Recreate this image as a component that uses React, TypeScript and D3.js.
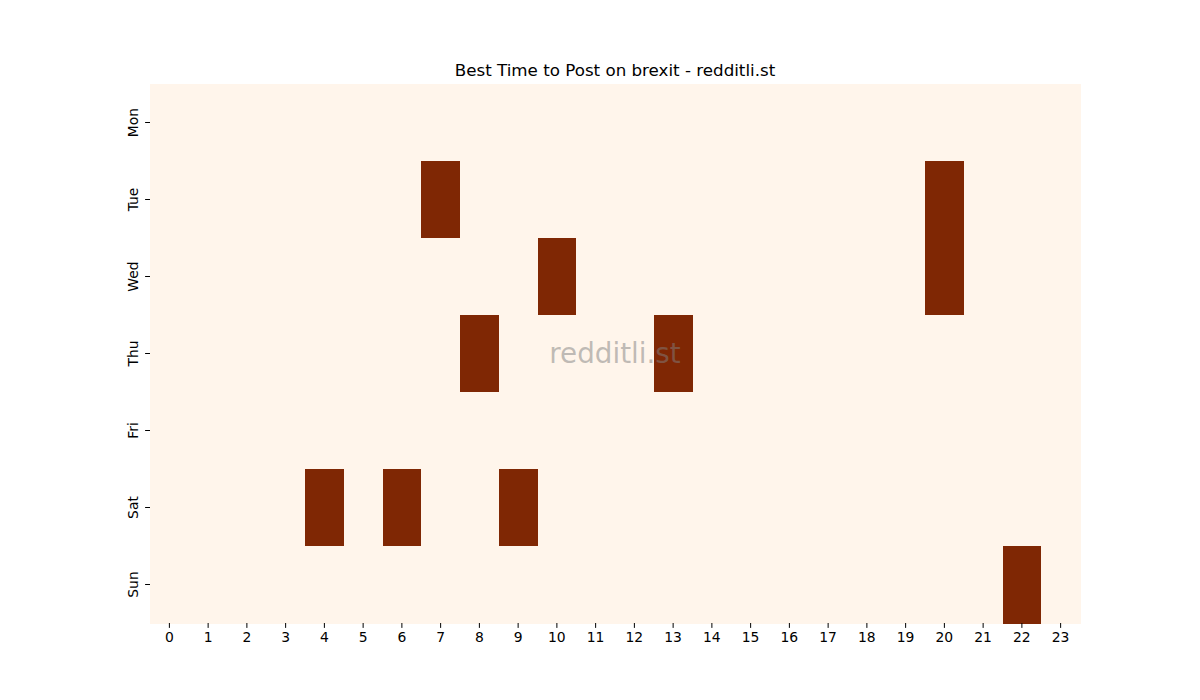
import React, { useEffect, useRef } from 'react';
import * as d3 from 'd3';

// Weekday rows and hour columns
const days = ['Mon', 'Tue', 'Wed', 'Thu', 'Fri', 'Sat', 'Sun'];
const hours = d3.range(24).map(String);

// Activity per day, one value per hour (1 = best time)
const mon = [0, 0, 0, 0, 0, 0, 0, 0, 0, 0, 0, 0, 0, 0, 0, 0, 0, 0, 0, 0, 0, 0, 0, 0];
const tue = [0, 0, 0, 0, 0, 0, 0, 1, 0, 0, 0, 0, 0, 0, 0, 0, 0, 0, 0, 0, 1, 0, 0, 0];
const wed = [0, 0, 0, 0, 0, 0, 0, 0, 0, 0, 1, 0, 0, 0, 0, 0, 0, 0, 0, 0, 1, 0, 0, 0];
const thu = [0, 0, 0, 0, 0, 0, 0, 0, 1, 0, 0, 0, 0, 1, 0, 0, 0, 0, 0, 0, 0, 0, 0, 0];
const fri = [0, 0, 0, 0, 0, 0, 0, 0, 0, 0, 0, 0, 0, 0, 0, 0, 0, 0, 0, 0, 0, 0, 0, 0];
const sat = [0, 0, 0, 0, 1, 0, 1, 0, 0, 1, 0, 0, 0, 0, 0, 0, 0, 0, 0, 0, 0, 0, 0, 0];
const sun = [0, 0, 0, 0, 0, 0, 0, 0, 0, 0, 0, 0, 0, 0, 0, 0, 0, 0, 0, 0, 0, 0, 1, 0];
const rows = [mon, tue, wed, thu, fri, sat, sun];

const title = 'Best Time to Post on brexit - redditli.st';

export default function App() {
  const svgRef = useRef<SVGSVGElement>(null);

  useEffect(() => {
    if (!svgRef.current) return;
    d3.select(svgRef.current).selectAll('*').remove();

    const width = 1200;
    const height = 700;
    const margin = { top: 84, right: 120, bottom: 77, left: 150 };
    const font = '"DejaVu Sans", sans-serif';

    const svg = d3.select(svgRef.current);
    svg.append('rect').attr('width', width).attr('height', height).attr('fill', '#ffffff');

    const x = d3.scaleBand().domain(hours).range([margin.left, width - margin.right]);
    const y = d3.scaleBand().domain(days).range([margin.top, height - margin.bottom]);
    const color = d3.scaleLinear<string>().domain([0, 1]).range(['#fff5eb', '#7f2704']);

    const cells = rows.flatMap((vals, i) => vals.map((v, h) => ({ day: days[i], hour: hours[h], v })));

    svg.append('g')
      .selectAll('rect')
      .data(cells)
      .join('rect')
      .attr('x', d => x(d.hour)!)
      .attr('y', d => y(d.day)!)
      .attr('width', x.bandwidth() + 0.5)
      .attr('height', y.bandwidth() + 0.5)
      .attr('fill', d => color(d.v))
      .attr('shape-rendering', 'crispEdges');

    // x-axis
    const xAxis = svg.append('g')
      .attr('transform', `translate(0,${height - margin.bottom})`)
      .call(d3.axisBottom(x).tickSize(4.9).tickPadding(4));
    xAxis.select('.domain').remove();
    xAxis.selectAll('text').style('font-family', font).style('font-size', '13.9px').attr('fill', '#000');

    // y-axis with rotated labels
    const yAxis = svg.append('g')
      .attr('transform', `translate(${margin.left},0)`)
      .call(d3.axisLeft(y).tickSize(4.9).tickPadding(4));
    yAxis.select('.domain').remove();
    yAxis.selectAll('text')
      .style('font-family', font)
      .style('font-size', '13.9px')
      .attr('fill', '#000')
      .attr('x', 0)
      .attr('dy', 0)
      .attr('text-anchor', 'middle')
      .attr('transform', 'translate(-12,0) rotate(-90)');

    // title
    svg.append('text')
      .attr('x', (margin.left + width - margin.right) / 2)
      .attr('y', 76)
      .attr('text-anchor', 'middle')
      .style('font-family', font)
      .style('font-size', '16.7px')
      .attr('fill', '#000')
      .text(title);

    // watermark
    svg.append('text')
      .attr('x', (margin.left + width - margin.right) / 2)
      .attr('y', 363)
      .attr('text-anchor', 'middle')
      .style('font-family', font)
      .style('font-size', '27.8px')
      .attr('fill', '#808080')
      .attr('fill-opacity', 0.5)
      .text('redditli.st');
  }, []);

  return (
    <div style={{ position: 'absolute', left: 0, top: 0 }}>
      <svg ref={svgRef} width={1200} height={700} style={{ display: 'block' }} />
    </div>
  );
}
